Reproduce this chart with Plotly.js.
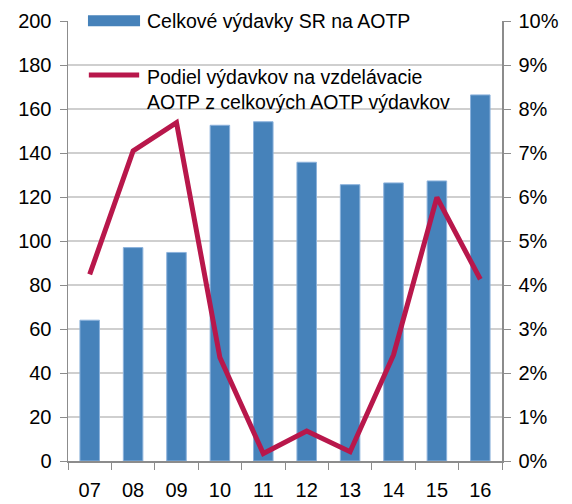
<!DOCTYPE html>
<html><head><meta charset="utf-8">
<script src="https://cdn.plot.ly/plotly-3.0.1.min.js"></script>
<style>html,body{margin:0;padding:0;background:#fff}#chart{width:572px;height:504px}</style>
</head><body><div id="chart"></div>
<script>
const years = ['07','08','09','10','11','12','13','14','15','16'];
const spending = [64, 97, 94.8, 152.6, 154.2, 135.8, 125.6, 126.4, 127.3, 166.4];
const sharePct = [0.0424, 0.0705, 0.0769, 0.0235, 0.0017, 0.0068, 0.0021, 0.0241, 0.0599, 0.0413];
const legendLabels = ['Celkové výdavky SR na AOTP', 'Podiel výdavkov na vzdelávacie<br>AOTP z celkových AOTP výdavkov'];

const font = {family: 'Liberation Sans, Arial, sans-serif', size: 20, color: '#000'};
const legendFont = {family: 'Liberation Sans, Arial, sans-serif', size: 19.5, color: '#000'};
const axisGray = '#8c8c8c';

const traces = [
  {type: 'bar', x: years, y: spending, name: legendLabels[0], yaxis: 'y',
   marker: {color: '#4682BA', line: {color: '#8cb2dc', width: 1}}, showlegend: false},
  {type: 'scatter', mode: 'lines', x: years, y: sharePct, name: legendLabels[1], yaxis: 'y2',
   line: {color: '#B8174B', width: 5}, showlegend: false}
];

const layout = {
  width: 572, height: 504,
  margin: {l: 68, r: 70, t: 21, b: 43},
  paper_bgcolor: '#fff', plot_bgcolor: '#fff',
  font: font,
  bargap: 0.55,
  showlegend: false,
  xaxis: {type: 'category', tickson: 'boundaries', ticks: 'outside', ticklen: 7, tickcolor: axisGray,
    showline: true, linecolor: axisGray, linewidth: 1.5, showgrid: false, tickfont: font, ticklabelstandoff: 10},
  yaxis: {range: [0, 200], dtick: 20, ticks: 'outside', ticklen: 7, tickcolor: axisGray,
    showline: true, linecolor: axisGray, linewidth: 1.5, showgrid: true, gridcolor: '#cfcfcf', gridwidth: 1.5,
    zeroline: false, tickfont: font, ticklabelstandoff: 4},
  yaxis2: {range: [0, 0.1], dtick: 0.01, tickformat: '.0%', overlaying: 'y', side: 'right',
    ticks: 'outside', ticklen: 7, tickcolor: axisGray, showline: true, linecolor: axisGray, linewidth: 1.5,
    showgrid: false, zeroline: false, tickfont: font, ticklabelstandoff: 4},
  shapes: [
    {type: 'rect', xref: 'paper', yref: 'paper', x0: 0.046, x1: 0.166, y0: 0.988, y1: 1.013,
     fillcolor: '#4682BA', line: {width: 0}, layer: 'above'},
    {type: 'line', xref: 'paper', yref: 'paper', x0: 0.048, x1: 0.164, y0: 0.877, y1: 0.877,
     line: {color: '#B8174B', width: 5}, layer: 'above'}
  ],
  annotations: [
    {xref: 'paper', yref: 'paper', x: 0.177, y: 1.0, xanchor: 'left', yanchor: 'middle', showarrow: false,
     text: legendLabels[0], font: legendFont, align: 'left'},
    {xref: 'paper', yref: 'paper', x: 0.177, y: 0.845, xanchor: 'left', yanchor: 'middle', showarrow: false,
     text: legendLabels[1], font: legendFont, align: 'left'}
  ]
};

Plotly.newPlot('chart', traces, layout, {displayModeBar: false, staticPlot: true});
</script></body></html>
